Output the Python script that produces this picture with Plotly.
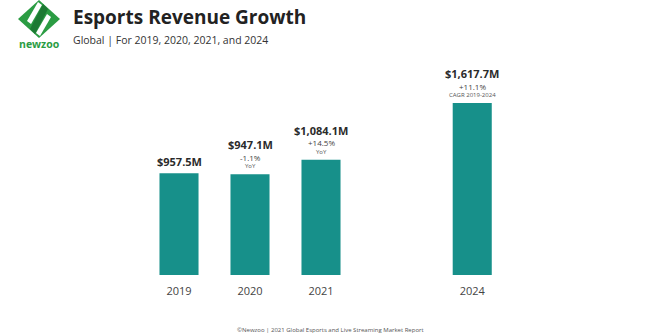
import plotly.graph_objects as go

# Revenue data (millions USD)
years = ["2019", "2020", "2021", "2024"]
revenue = [957.5, 947.1, 1084.1, 1617.7]
value_labels = ["$957.5M", "$947.1M", "$1,084.1M", "$1,617.7M"]
change_labels = ["", "-1.1%", "+14.5%", "+11.1%"]
change_notes = ["", "YoY", "YoY", "CAGR 2019-2024"]
# horizontal slot of each bar (gap before the forecast year)
slots = [0, 1, 2, 4.13]

W, H = 660, 336
BOTTOM = 61
PLOT_H = H - BOTTOM
TEAL = "#17908a"
GREEN = "#2b9c43"
FONT = "Open Sans"


def px(x):
    return x / W


def py(y):
    return (PLOT_H - y) / PLOT_H


fig = go.Figure(
    go.Bar(
        x=slots,
        y=revenue,
        width=0.55,
        marker=dict(color=TEAL, line=dict(width=0)),
        hoverinfo="skip",
    )
)

annotations = []
for s, v, lab, ch, note in zip(slots, revenue, value_labels, change_labels, change_notes):
    has_sub = bool(ch)
    annotations.append(dict(
        x=s, y=v, xref="x", yref="y", text=f"<b>{lab}</b>", showarrow=False,
        yanchor="middle", yshift=29.5 if has_sub else 12, borderpad=0,
        font=dict(family=FONT, size=11, color="#2b2b2b"),
    ))
    if has_sub:
        annotations.append(dict(
            x=s, y=v, xref="x", yref="y", text=ch, showarrow=False,
            yanchor="middle", yshift=17, borderpad=0,
            font=dict(family=FONT, size=8, color="#444444"),
        ))
        annotations.append(dict(
            x=s, y=v, xref="x", yref="y", text=note, showarrow=False,
            yanchor="middle", yshift=8, borderpad=0,
            font=dict(family=FONT, size=6, color="#555555"),
        ))

# header
annotations += [
    dict(x=px(71), y=py(17), xref="paper", yref="paper", xanchor="left", yanchor="middle",
         text="<b>Esports Revenue Growth</b>", showarrow=False,
         font=dict(family=FONT, size=19, color="#222222")),
    dict(x=px(71), y=py(40), xref="paper", yref="paper", xanchor="left", yanchor="middle",
         text="Global | For 2019, 2020, 2021, and 2024", showarrow=False,
         font=dict(family=FONT, size=10.5, color="#333333")),
    dict(x=px(39), y=py(44), xref="paper", yref="paper", xanchor="center", yanchor="middle",
         text="<b>newzoo</b>", showarrow=False,
         font=dict(family=FONT, size=10.5, color=GREEN)),
    dict(x=0.5, y=py(330), xref="paper", yref="paper", xanchor="center", yanchor="middle",
         text="©Newzoo | 2021 Global Esports and Live Streaming Market Report", showarrow=False,
         font=dict(family=FONT, size=6, color="#555555")),
]


def path(points):
    return "M " + " L ".join(f"{px(x):.4f},{py(y):.4f}" for x, y in points) + " Z"


# logo: green diamond with two white diagonal bands
cx, cy, rx, ry = 39, 19, 21, 19
shapes = [
    dict(type="path", xref="paper", yref="paper", line=dict(width=0), fillcolor=GREEN,
         path=path([(cx, cy - ry), (cx + rx, cy), (cx, cy + ry), (cx - rx, cy)])),
    dict(type="path", xref="paper", yref="paper", line=dict(width=0), fillcolor="#1d7a33",
         path=path([(cx + 4, cy - 15), (cx + 9, cy - 10), (cx - 4, cy + 15), (cx - 9, cy + 10)])),
    dict(type="path", xref="paper", yref="paper", line=dict(width=0), fillcolor="white",
         path=path([(cx - 1, cy - 17), (cx + 3, cy - 14), (cx - 8, cy + 5), (cx - 12, cy + 2)])),
    dict(type="path", xref="paper", yref="paper", line=dict(width=0), fillcolor="white",
         path=path([(cx + 12, cy - 2), (cx + 8, cy - 5), (cx - 3, cy + 14), (cx + 1, cy + 17)])),
]

scale = 71.0  # pixels per slot
x0 = -179 / scale
fig.update_layout(
    width=W, height=H,
    margin=dict(l=0, r=0, t=0, b=BOTTOM),
    paper_bgcolor="white", plot_bgcolor="white",
    showlegend=False,
    xaxis=dict(
        range=[x0, x0 + W / scale], tickmode="array", tickvals=slots, ticktext=years,
        showgrid=False, zeroline=False, showline=False,
        ticks="outside", ticklen=6, tickcolor="rgba(0,0,0,0)",
        tickfont=dict(family=FONT, size=11, color="#444444"), fixedrange=True,
    ),
    yaxis=dict(
        range=[0, PLOT_H / 0.1063], visible=False, fixedrange=True,
    ),
    annotations=annotations,
    shapes=shapes,
)

fig.write_html("out.html")
